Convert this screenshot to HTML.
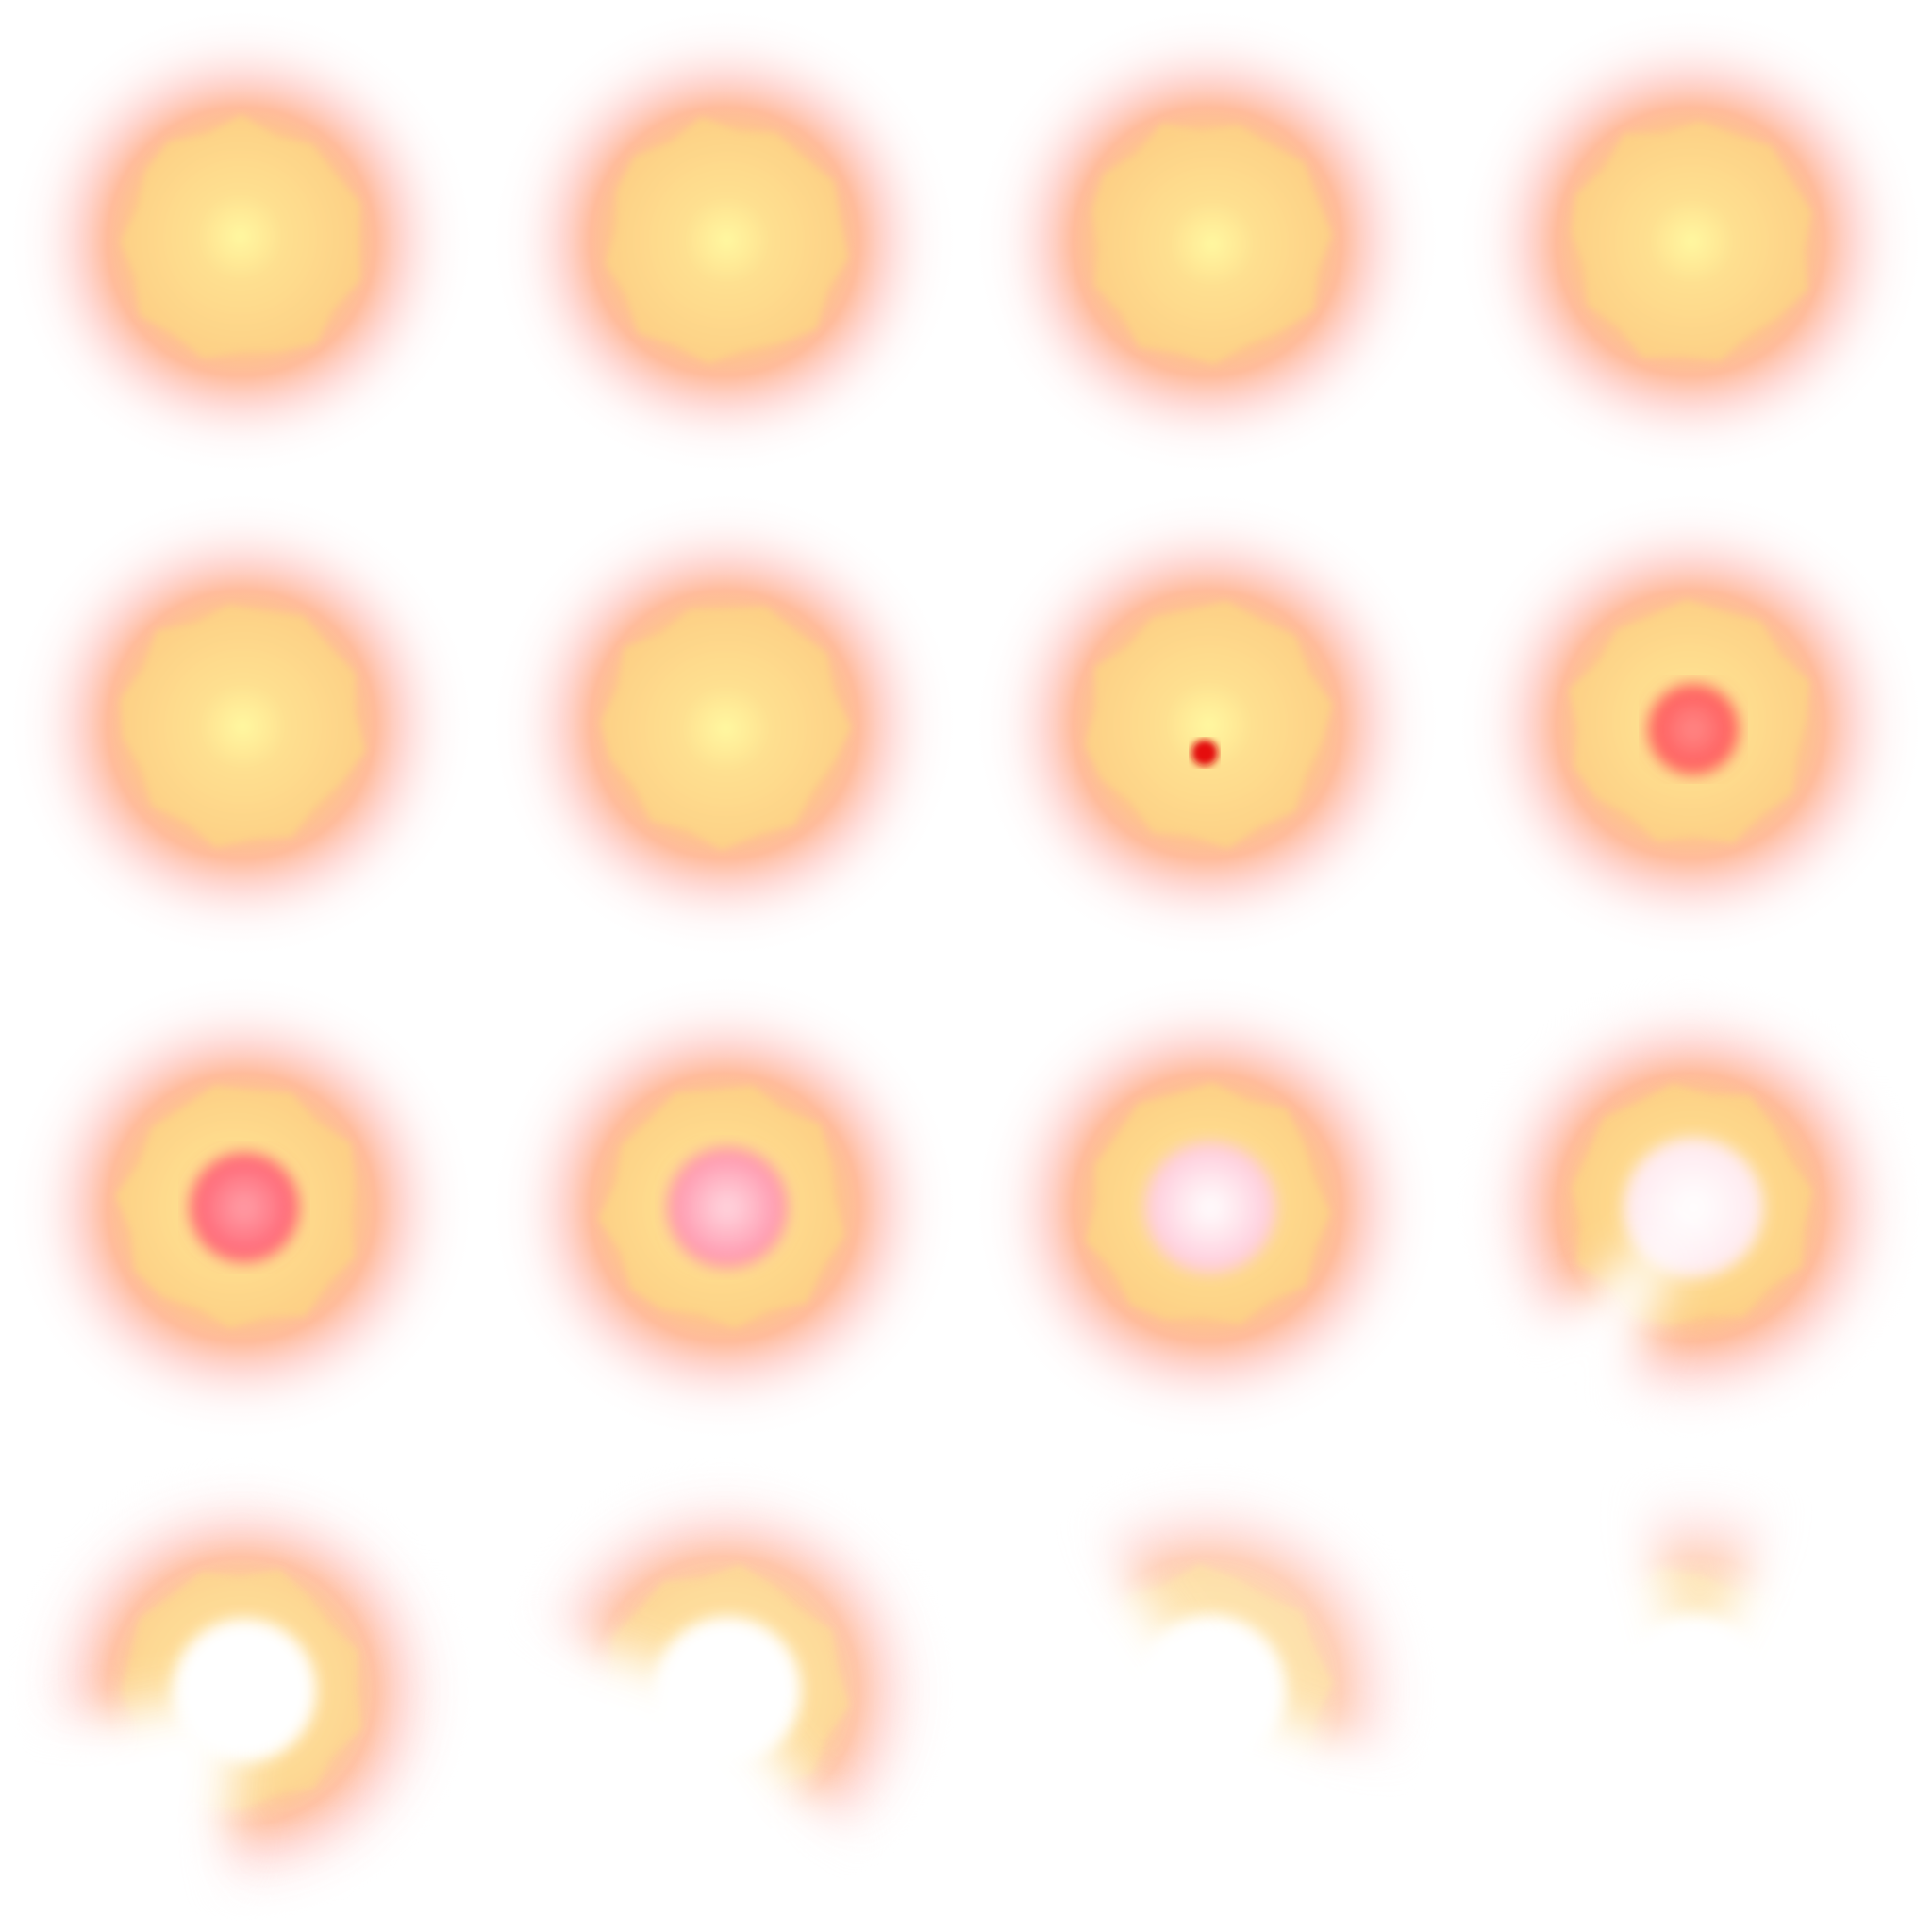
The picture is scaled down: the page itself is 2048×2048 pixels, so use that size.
<!DOCTYPE html>
<html><head><meta charset="utf-8"><style>
html,body{margin:0;padding:0;background:#fff;}
svg{display:block;}
</style></head>
<body>
<svg id="sheet" width="2048" height="2048" viewBox="0 0 2048 2048" xmlns="http://www.w3.org/2000/svg">
<defs>
<radialGradient id="halo" cx="0.5" cy="0.5" r="0.5">
<stop offset="0" stop-color="#fdd088"/>
<stop offset="0.45" stop-color="#fdc888"/>
<stop offset="0.57" stop-color="#ffb490" stop-opacity="0.9"/>
<stop offset="0.7" stop-color="#ffb8b0" stop-opacity="0.5"/>
<stop offset="0.85" stop-color="#ffdcdc" stop-opacity="0.18"/>
<stop offset="1" stop-color="#ffffff" stop-opacity="0"/>
</radialGradient>
<radialGradient id="core" cx="0.5" cy="0.5" r="0.5">
<stop offset="0" stop-color="#fff8a0"/>
<stop offset="0.35" stop-color="#fee090"/>
<stop offset="1" stop-color="#fdd086"/>
</radialGradient>
<filter id="b3"><feGaussianBlur stdDeviation="4"/></filter>
<filter id="b10"><feGaussianBlur stdDeviation="8"/></filter>
<filter id="b25"><feGaussianBlur stdDeviation="25"/></filter>
</defs>
<g id="frames"></g>
</svg>
<script>
// per-frame data
const holeR =      [0,0,0,0,0,0,14,48,58,64,70,74,76,78,80,80];
const holeDy =     [0,0,0,0,0,0,30,5,0,0,0,0,0,0,0,0];
const holeInner =  ['#fff','#fff','#fff','#fff','#fff','#fff','#e81010','#ff8a88','#ffa0a8','#ffd8e0','#ffffff','#ffffff','#ffffff','#ffffff','#ffffff','#ffffff'];
const holeEdge =   ['#fff','#fff','#fff','#fff','#fff','#fff','#e01010','#ff5858','#ff6070','#ff90a8','#ffc8d8','#ffe8ee','#ffffff','#ffffff','#ffffff','#ffffff'];
const arcStart =   [0,0,0,0,0,0,0,0,0,0,0,-220,-190,-160,-125,-105];
const arcEnd =     [360,360,360,360,360,360,360,360,360,360,360,110,95,50,20,-65];
const frameAlpha = [1,1,1,1,1,1,1,1,1,1,1,1,0.9,0.85,0.7,0.6];
const blobWobble = [0,8,-4,10,-2,-8,6,-3,9,-6,4,-9,2,7,-5,10,-7,3,-2,8];

const NS='http://www.w3.org/2000/svg';
const root=document.getElementById('frames');
function mk(t,a){const e=document.createElementNS(NS,t);for(const k in a)e.setAttribute(k,a[k]);return e;}
const defs=document.querySelector('defs');
for(let i=0;i<16;i++){
  const cx=256+512*(i%4), cy=256+512*Math.floor(i/4);
  const g=mk('g',{opacity:frameAlpha[i]});
  
  
  if(arcEnd[i]-arcStart[i]<360){
    const m=mk('mask',{id:'m'+i,maskUnits:'userSpaceOnUse',x:cx-256,y:cy-256,width:512,height:512});
    const R=320,a0=arcStart[i]*Math.PI/180,a1=arcEnd[i]*Math.PI/180;
    const large=(arcEnd[i]-arcStart[i])>180?1:0;
    const p=mk('path',{d:`M${cx} ${cy} L${cx+R*Math.cos(a0)} ${cy+R*Math.sin(a0)} A${R} ${R} 0 ${large} 1 ${cx+R*Math.cos(a1)} ${cy+R*Math.sin(a1)} Z`,fill:'#fff',filter:'url(#b25)'});
    m.appendChild(p);defs.appendChild(m);
    g.setAttribute('mask','url(#m'+i+')');
  }
  const halo=mk('circle',{cx:cx,cy:cy,r:250,fill:'url(#halo)'});
  
  
  g.appendChild(halo);
  let pts=[];
  const n=blobWobble.length;
  for(let k=0;k<n;k++){const a=k/n*2*Math.PI+i*0.13;const r=124+blobWobble[(k+i)%n];pts.push((cx+r*Math.cos(a)).toFixed(1)+','+(cy+r*Math.sin(a)).toFixed(1));}
  const core=mk('polygon',{points:pts.join(' '),fill:'url(#core)',filter:'url(#b3)'});
  
  
  g.appendChild(core);
  if(holeR[i]>0){
    const gr=mk('radialGradient',{id:'h'+i,cx:0.5,cy:0.5,r:0.5});
    gr.appendChild(mk('stop',{offset:0,'stop-color':holeInner[i]}));
    gr.appendChild(mk('stop',{offset:1,'stop-color':holeEdge[i]}));
    defs.appendChild(gr);
    const h=mk('circle',{cx:cx+(i===6?-3:3),cy:cy+holeDy[i],r:holeR[i],fill:'url(#h'+i+')',filter:i===6?'url(#b3)':'url(#b10)'});
    
    
    g.appendChild(h);
  }
  root.appendChild(g);
}
</script>
</body></html>
